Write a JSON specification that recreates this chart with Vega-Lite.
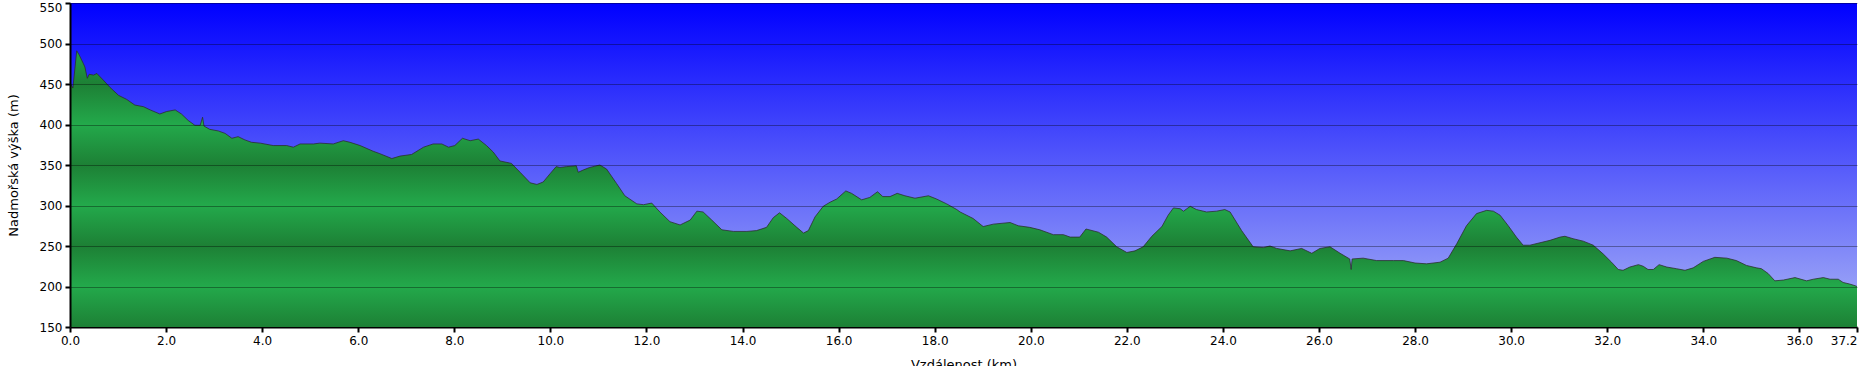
{
  "$schema": "https://vega.github.io/schema/vega-lite/v6.json",
  "width": 1787,
  "height": 324,
  "autosize": "none",
  "padding": {"left": 70, "top": 3, "right": 4, "bottom": 39},
  "background": "white",
  "config": {"view": {"stroke": null}, "font": "DejaVu Sans"},
  "datasets": {
    "profile": [
      {"km": 0, "m": 452}, {"km": 0.06, "m": 445}, {"km": 0.14, "m": 491}, {"km": 0.19, "m": 486},
      {"km": 0.28, "m": 475}, {"km": 0.31, "m": 471}, {"km": 0.36, "m": 457}, {"km": 0.40, "m": 462},
      {"km": 0.49, "m": 461}, {"km": 0.56, "m": 463}, {"km": 0.69, "m": 455}, {"km": 0.83, "m": 446},
      {"km": 1.01, "m": 436}, {"km": 1.18, "m": 431}, {"km": 1.35, "m": 424}, {"km": 1.53, "m": 422},
      {"km": 1.67, "m": 418}, {"km": 1.87, "m": 413}, {"km": 2.01, "m": 416}, {"km": 2.19, "m": 418},
      {"km": 2.32, "m": 413}, {"km": 2.46, "m": 405}, {"km": 2.60, "m": 399}, {"km": 2.71, "m": 399},
      {"km": 2.76, "m": 409}, {"km": 2.79, "m": 398}, {"km": 2.91, "m": 394}, {"km": 3.09, "m": 392},
      {"km": 3.23, "m": 389}, {"km": 3.37, "m": 383}, {"km": 3.50, "m": 385}, {"km": 3.64, "m": 381},
      {"km": 3.78, "m": 378}, {"km": 3.96, "m": 377}, {"km": 4.23, "m": 374}, {"km": 4.51, "m": 374},
      {"km": 4.65, "m": 372}, {"km": 4.79, "m": 376}, {"km": 5.07, "m": 376}, {"km": 5.20, "m": 377},
      {"km": 5.48, "m": 376}, {"km": 5.69, "m": 380}, {"km": 5.83, "m": 378}, {"km": 6.04, "m": 374},
      {"km": 6.31, "m": 367}, {"km": 6.45, "m": 364}, {"km": 6.70, "m": 358}, {"km": 6.87, "m": 361},
      {"km": 7.11, "m": 363}, {"km": 7.36, "m": 372}, {"km": 7.56, "m": 376}, {"km": 7.74, "m": 376},
      {"km": 7.88, "m": 372}, {"km": 8.01, "m": 374}, {"km": 8.17, "m": 383}, {"km": 8.33, "m": 380},
      {"km": 8.50, "m": 382}, {"km": 8.67, "m": 374}, {"km": 8.81, "m": 366}, {"km": 8.95, "m": 355},
      {"km": 9.19, "m": 352}, {"km": 9.37, "m": 341}, {"km": 9.58, "m": 328}, {"km": 9.72, "m": 326},
      {"km": 9.85, "m": 329}, {"km": 9.99, "m": 339}, {"km": 10.12, "m": 348}, {"km": 10.20, "m": 347},
      {"km": 10.34, "m": 348}, {"km": 10.54, "m": 349}, {"km": 10.58, "m": 341}, {"km": 10.69, "m": 344},
      {"km": 10.82, "m": 347}, {"km": 11.03, "m": 350}, {"km": 11.17, "m": 345}, {"km": 11.38, "m": 327},
      {"km": 11.55, "m": 312}, {"km": 11.80, "m": 302}, {"km": 11.94, "m": 301}, {"km": 12.11, "m": 303},
      {"km": 12.28, "m": 292}, {"km": 12.49, "m": 280}, {"km": 12.70, "m": 276}, {"km": 12.91, "m": 282},
      {"km": 13.05, "m": 293}, {"km": 13.18, "m": 292}, {"km": 13.36, "m": 282}, {"km": 13.57, "m": 270},
      {"km": 13.81, "m": 268}, {"km": 14.09, "m": 268}, {"km": 14.29, "m": 269}, {"km": 14.50, "m": 273},
      {"km": 14.64, "m": 285}, {"km": 14.77, "m": 291}, {"km": 14.92, "m": 284}, {"km": 15.13, "m": 273},
      {"km": 15.27, "m": 266}, {"km": 15.37, "m": 269}, {"km": 15.51, "m": 286}, {"km": 15.68, "m": 299},
      {"km": 15.82, "m": 304}, {"km": 15.96, "m": 308}, {"km": 16.15, "m": 318}, {"km": 16.27, "m": 315},
      {"km": 16.48, "m": 307}, {"km": 16.65, "m": 310}, {"km": 16.81, "m": 317}, {"km": 16.92, "m": 311},
      {"km": 17.07, "m": 311}, {"km": 17.22, "m": 315}, {"km": 17.38, "m": 312}, {"km": 17.59, "m": 309},
      {"km": 17.87, "m": 312}, {"km": 18.04, "m": 308}, {"km": 18.25, "m": 302}, {"km": 18.46, "m": 295},
      {"km": 18.53, "m": 292}, {"km": 18.80, "m": 284}, {"km": 19.01, "m": 274}, {"km": 19.22, "m": 277},
      {"km": 19.57, "m": 279}, {"km": 19.74, "m": 275}, {"km": 19.98, "m": 273}, {"km": 20.19, "m": 270},
      {"km": 20.47, "m": 264}, {"km": 20.68, "m": 264}, {"km": 20.82, "m": 261}, {"km": 21.02, "m": 261},
      {"km": 21.15, "m": 271}, {"km": 21.41, "m": 267}, {"km": 21.58, "m": 261}, {"km": 21.79, "m": 249},
      {"km": 22.00, "m": 242}, {"km": 22.17, "m": 244}, {"km": 22.34, "m": 249}, {"km": 22.52, "m": 262},
      {"km": 22.73, "m": 274}, {"km": 22.86, "m": 288}, {"km": 22.97, "m": 297}, {"km": 23.11, "m": 296},
      {"km": 23.18, "m": 293}, {"km": 23.32, "m": 299}, {"km": 23.45, "m": 295}, {"km": 23.66, "m": 292},
      {"km": 23.87, "m": 293}, {"km": 24.04, "m": 295}, {"km": 24.15, "m": 292}, {"km": 24.39, "m": 269},
      {"km": 24.63, "m": 249}, {"km": 24.84, "m": 248}, {"km": 24.98, "m": 250}, {"km": 25.12, "m": 247},
      {"km": 25.40, "m": 244}, {"km": 25.64, "m": 247}, {"km": 25.85, "m": 241}, {"km": 26.02, "m": 247},
      {"km": 26.23, "m": 249}, {"km": 26.44, "m": 241}, {"km": 26.64, "m": 234}, {"km": 26.67, "m": 221},
      {"km": 26.69, "m": 234}, {"km": 26.92, "m": 235}, {"km": 27.20, "m": 232}, {"km": 27.55, "m": 232},
      {"km": 27.76, "m": 232}, {"km": 28.00, "m": 229}, {"km": 28.24, "m": 228}, {"km": 28.52, "m": 230},
      {"km": 28.69, "m": 235}, {"km": 28.87, "m": 253}, {"km": 29.07, "m": 275}, {"km": 29.28, "m": 290},
      {"km": 29.49, "m": 294}, {"km": 29.63, "m": 293}, {"km": 29.77, "m": 288}, {"km": 29.94, "m": 275},
      {"km": 30.11, "m": 261}, {"km": 30.25, "m": 251}, {"km": 30.39, "m": 251}, {"km": 30.60, "m": 254},
      {"km": 30.81, "m": 257}, {"km": 31.02, "m": 261}, {"km": 31.12, "m": 262}, {"km": 31.29, "m": 259},
      {"km": 31.50, "m": 256}, {"km": 31.71, "m": 251}, {"km": 31.92, "m": 240}, {"km": 32.09, "m": 230},
      {"km": 32.23, "m": 221}, {"km": 32.33, "m": 220}, {"km": 32.47, "m": 224}, {"km": 32.65, "m": 227},
      {"km": 32.75, "m": 225}, {"km": 32.85, "m": 221}, {"km": 32.96, "m": 221}, {"km": 33.08, "m": 227},
      {"km": 33.24, "m": 224}, {"km": 33.44, "m": 222}, {"km": 33.62, "m": 220}, {"km": 33.79, "m": 223},
      {"km": 34.00, "m": 231}, {"km": 34.24, "m": 236}, {"km": 34.49, "m": 235}, {"km": 34.69, "m": 232},
      {"km": 34.90, "m": 226}, {"km": 35.11, "m": 223}, {"km": 35.21, "m": 222}, {"km": 35.35, "m": 216},
      {"km": 35.49, "m": 207}, {"km": 35.67, "m": 208}, {"km": 35.91, "m": 211}, {"km": 36.15, "m": 207},
      {"km": 36.29, "m": 209}, {"km": 36.50, "m": 211}, {"km": 36.64, "m": 209}, {"km": 36.81, "m": 209},
      {"km": 36.91, "m": 205}, {"km": 37.05, "m": 203}, {"km": 37.16, "m": 201}, {"km": 37.2, "m": 200}
    ]
  },
  "layer": [
    {
      "data": {"values": [{}]},
      "mark": {
        "type": "rect",
        "fill": {
          "gradient": "linear", "x1": 0, "y1": 0, "x2": 0, "y2": 1,
          "stops": [{"offset": 0, "color": "#0000ff"}, {"offset": 1, "color": "#aab4f6"}]
        }
      },
      "encoding": {
        "x": {
          "datum": 0, "type": "quantitative",
          "scale": {"domain": [0, 37.2], "nice": false, "zero": false},
          "axis": {
            "title": "Vzdálenost  (km)",
            "values": [0, 2, 4, 6, 8, 10, 12, 14, 16, 18, 20, 22, 24, 26, 28, 30, 32, 34, 36, 37.2],
            "format": ".1f",
            "labelAlign": {"condition": {"test": "datum.value > 37", "value": "right"}, "value": "center"},
            "labelOverlap": false,
            "labelFlush": false,
            "grid": false,
            "domainColor": "#000", "domainWidth": 2,
            "tickColor": "#000", "tickWidth": 2, "tickSize": 5,
            "labelFontSize": 12, "labelColor": "#000", "labelPadding": 3,
            "titleFontSize": 13, "titleFontWeight": "normal", "titleColor": "#000", "titlePadding": 12
          }
        },
        "x2": {"datum": 37.2},
        "y": {
          "datum": 150, "type": "quantitative",
          "scale": {"domain": [150, 550], "nice": false, "zero": false},
          "axis": {
            "title": "Nadmořská výška (m)",
            "values": [150, 200, 250, 300, 350, 400, 450, 500, 550],
            "grid": true, "gridColor": "#000", "gridOpacity": 0.35, "gridWidth": 1,
            "zindex": 1,
            "domainColor": "#000", "domainWidth": 2,
            "tickColor": "#000", "tickWidth": 2, "tickSize": 5,
            "labelFontSize": 12, "labelColor": "#000", "labelPadding": 3,
            "labelOffset": {"condition": {"test": "datum.value > 540", "value": 4}, "value": 0},
            "titleFontSize": 13, "titleFontWeight": "normal", "titleColor": "#000", "titlePadding": 19
          }
        },
        "y2": {"datum": 550}
      }
    },
    {
      "data": {"name": "profile"},
      "mark": {
        "type": "area",
        "fill": {
          "gradient": "linear", "x1": 0, "y1": 0, "x2": 0, "y2": 1,
          "stops": [
            {"offset": 0, "color": "#21a046"},
            {"offset": 0.1202, "color": "#1d8035"},
            {"offset": 0.2669, "color": "#23a94b"},
            {"offset": 0.4135, "color": "#1d8035"},
            {"offset": 0.5601, "color": "#23a94b"},
            {"offset": 0.7067, "color": "#1d8035"},
            {"offset": 0.8534, "color": "#23a94b"},
            {"offset": 1, "color": "#1d8035"}
          ]
        }
      },
      "encoding": {
        "x": {"field": "km", "type": "quantitative", "title": "Vzdálenost  (km)"},
        "y": {"field": "m", "type": "quantitative", "title": "Nadmořská výška (m)"},
        "y2": {"datum": 150}
      }
    },
    {
      "data": {"name": "profile"},
      "mark": {"type": "line", "color": "#2b2b2b", "strokeWidth": 1, "opacity": 0.75},
      "encoding": {
        "x": {"field": "km", "type": "quantitative", "title": "Vzdálenost  (km)"},
        "y": {"field": "m", "type": "quantitative", "title": "Nadmořská výška (m)"}
      }
    }
  ]
}
